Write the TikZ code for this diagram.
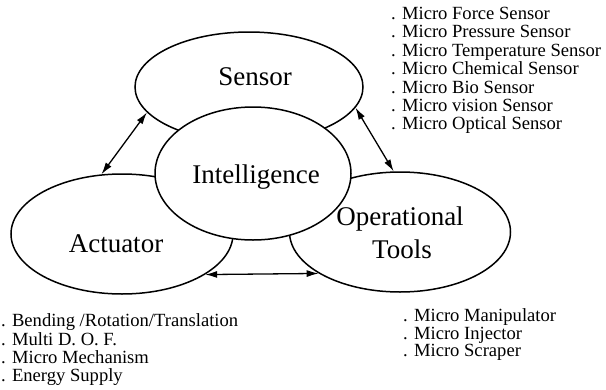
\documentclass[tikz,border=0pt]{standalone}
\usepackage{fontspec}
\setmainfont{Liberation Serif}
\usetikzlibrary{shapes.geometric,arrows.meta}
\begin{document}
\begin{tikzpicture}[x=1pt,y=-1pt,
  blob/.style={draw=black, line width=1.5pt, ellipse, inner sep=0pt},
  bigtext/.style={font=\fontsize{27}{30}\selectfont, inner sep=0pt, anchor=base},
  listtext/.style={font=\fontsize{18.6}{20}\selectfont, inner sep=0pt, anchor=base west},
  link/.style={line width=1.3pt, {Latex[length=12pt,width=7pt]}-{Latex[length=12pt,width=7pt]}}]
\useasboundingbox (0,0) rectangle (606,389);
% outer ellipses
\node[blob, minimum width=228pt, minimum height=110pt] (sen) at (249,87) {};
\node[blob, minimum width=222pt, minimum height=120pt] (act) at (122,234) {};
\node[blob, minimum width=221pt, minimum height=120pt] (ops) at (400,232) {};
% centre ellipse on top
\node[blob, fill=white, minimum width=196pt, minimum height=133pt] (int) at (253,173.5) {};
% labels
\node[bigtext] (tsen) at (255,85) {Sensor};
\node[bigtext] (tint) at (256,183) {Intelligence};
\node[bigtext] (tact) at (116,252) {Actuator};
\node[bigtext] (tops1) at (400,225) {Operational};
\node[bigtext] (tops2) at (402,258) {Tools};
% connectors
\draw[link] (act.109.3) -- (sen.194.4);
\draw[link] (sen.349.1) -- (ops.96.4);
\draw[link] (act.334.3) -- (ops.207.1);
% sensor list
\node[listtext] (s1) at (391,19.5) {. Micro Force Sensor};
\node[listtext] (s2) at (391,37.9) {. Micro Pressure Sensor};
\node[listtext] (s3) at (391,56.3) {. Micro Temperature Sensor};
\node[listtext] (s4) at (391,74.7) {. Micro Chemical Sensor};
\node[listtext] (s5) at (391,93.1) {. Micro Bio Sensor};
\node[listtext] (s6) at (391,111.5) {. Micro vision Sensor};
\node[listtext] (s7) at (391,129.9) {. Micro Optical Sensor};
% actuator list
\node[listtext] (a1) at (1,326.7) {. Bending /Rotation/Translation};
\node[listtext] (a2) at (1,345) {. Multi D. O. F.};
\node[listtext] (a3) at (1,363.3) {. Micro Mechanism};
\node[listtext] (a4) at (1,381.6) {. Energy Supply};
% tools list
\node[listtext] (o1) at (403,321.7) {. Micro Manipulator};
\node[listtext] (o2) at (403,339) {. Micro Injector};
\node[listtext] (o3) at (403,356.3) {. Micro Scraper};
\end{tikzpicture}
\end{document}
